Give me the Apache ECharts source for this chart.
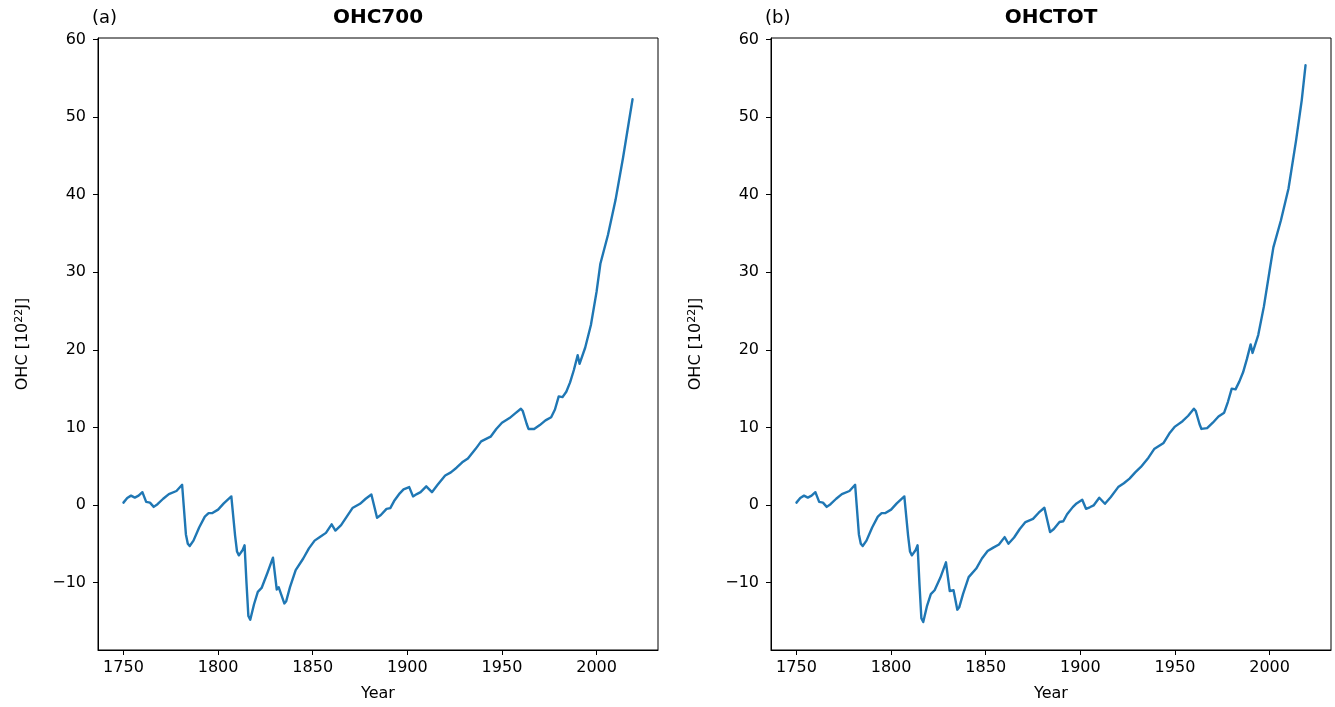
<!DOCTYPE html>
<html>
<head>
<meta charset="utf-8">
<script src="https://cdn.jsdelivr.net/npm/echarts@6/dist/echarts.min.js"></script>
<style>
html,body{margin:0;padding:0;background:#fff;}
#chart{width:1335px;height:707px;}
</style>
</head>
<body>
<div id="chart"></div>
<script>
// ---- data ----
const years700 = [1750,1752,1754,1756,1758,1760,1762,1764,1766,1768,1771,1774,1778,1781,1783,1784,1785,1787,1790,1793,1795,1797,1800,1803,1807,1808,1809,1810,1811,1813,1814,1815,1816,1817,1819,1821,1823,1826,1829,1831,1832,1833,1835,1836,1838,1841,1845,1848,1851,1854,1857,1860,1862,1865,1868,1871,1875,1878,1881,1882,1884,1886,1889,1891,1893,1896,1898,1901,1903,1905,1907,1910,1913,1916,1920,1923,1926,1929,1932,1936,1939,1944,1947,1950,1954,1957,1960,1961,1963,1964,1967,1970,1973,1976,1978,1980,1982,1984,1986,1988,1990,1991,1992,1994,1997,2000,2002,2006,2010,2014,2017,2019];
const ohc700 = [0.3,0.9,1.2,0.95,1.2,1.65,0.4,0.3,-0.25,0.1,0.8,1.4,1.8,2.6,-3.8,-5.0,-5.3,-4.6,-2.9,-1.5,-1.05,-1.05,-0.6,0.2,1.1,1.1,-4.0,-6.0,-6.5,-5.8,-5.2,-10.0,-14.3,-14.8,-12.8,-11.2,-10.7,-8.8,-6.8,-10.9,-10.6,-10.4,-12.7,-12.4,-10.6,-8.4,-6.9,-5.6,-4.6,-4.1,-3.6,-2.5,-3.3,-2.6,-1.5,-0.4,0.15,0.8,1.35,1.2,-1.65,-1.3,-0.5,-0.4,0.5,1.5,2.0,2.3,1.1,1.4,1.65,2.4,1.65,2.6,3.8,4.2,4.8,5.5,6.0,7.2,8.2,8.8,9.8,10.6,11.2,11.8,12.4,12.1,10.5,9.8,9.8,10.3,10.9,11.3,12.3,14.0,13.9,14.6,15.8,17.4,19.3,18.2,18.2,20.3,23.2,27.5,31.1,34.8,39.3,44.8,49.3,52.3];

const yearsTot = [1750,1752,1754,1756,1758,1760,1762,1764,1766,1768,1771,1774,1778,1781,1783,1784,1785,1787,1790,1793,1795,1797,1800,1803,1807,1808,1809,1810,1811,1813,1814,1815,1816,1817,1819,1821,1823,1826,1829,1831,1832,1833,1835,1836,1838,1841,1845,1848,1851,1854,1857,1860,1862,1865,1868,1871,1875,1878,1881,1882,1884,1886,1889,1891,1893,1896,1898,1901,1903,1905,1907,1910,1913,1916,1920,1923,1926,1929,1932,1936,1939,1944,1947,1950,1954,1957,1960,1961,1963,1964,1967,1970,1973,1976,1978,1980,1982,1984,1986,1988,1990,1991,1992,1994,1997,2000,2002,2006,2010,2014,2017,2019];
const ohcTot = [0.3,0.9,1.2,0.95,1.2,1.65,0.4,0.3,-0.25,0.1,0.8,1.4,1.8,2.6,-3.8,-5.0,-5.3,-4.6,-2.9,-1.5,-1.05,-1.05,-0.6,0.2,1.1,1.1,-4.0,-6.0,-6.5,-5.8,-5.2,-10.2,-14.6,-15.1,-13.0,-11.5,-11.0,-9.4,-7.4,-11.1,-11.0,-11.0,-13.5,-13.2,-11.5,-9.3,-8.2,-6.9,-5.95,-5.5,-5.1,-4.15,-5.0,-4.2,-3.1,-2.2,-1.8,-1.0,-0.36,-0.5,-3.5,-3.1,-2.2,-2.1,-1.2,-0.28,0.2,0.67,-0.5,-0.3,-0.06,0.93,0.15,1.0,2.3,2.8,3.4,4.2,4.9,6.1,7.2,8.0,9.2,10.1,10.8,11.5,12.4,12.1,10.4,9.8,9.9,10.6,11.4,11.9,13.3,15.0,14.9,15.9,17.1,18.8,20.7,19.6,19.7,21.9,25.6,30.2,33.2,36.7,40.8,47.0,52.2,56.7];

const xTicks = [1750,1800,1850,1900,1950,2000];
const yTicks = [-10,0,10,20,30,40,50,60];
const panelLetters = ['(a)','(b)'];
const panelTitles = ['OHC700','OHCTOT'];
const xName = 'Year';
const yName = 'OHC [10{sup|22}J]';

// ---- chart ----
const FONT = '"DejaVu Sans", sans-serif';
const BLUE = '#1f77b4';
const grids = [
  {left: 98, top: 38, width: 560, height: 612},
  {left: 771, top: 38, width: 560, height: 612}
];

function pairs(xs, ys){ return xs.map((x,i)=>[x, ys[i]]); }

const xAxes = grids.map((g,i)=>({
  type:'value', gridIndex:i, min:1736.55, max:2032.45,
  axisLine:{show:true, onZero:false, lineStyle:{color:'#000', width:1}},
  axisTick:{show:true, inside:false, length:5, customValues:xTicks, lineStyle:{color:'#000', width:1}},
  axisLabel:{customValues:xTicks, fontSize:16, color:'#000', fontFamily:FONT, margin:10,
    formatter:(v)=>String(v)},
  splitLine:{show:false},
  name:xName, nameLocation:'middle', nameGap:36,
  nameTextStyle:{fontSize:16, color:'#000', fontFamily:FONT}
}));
const yAxes = grids.map((g,i)=>({
  type:'value', gridIndex:i, min:-18.7, max:60.2,
  axisLine:{show:true, onZero:false, lineStyle:{color:'#000', width:1}},
  axisTick:{show:true, inside:false, length:5, customValues:yTicks, lineStyle:{color:'#000', width:1}},
  axisLabel:{customValues:yTicks, fontSize:16, color:'#000', fontFamily:FONT, margin:12,
    formatter:(v)=>String(v).replace('-', '\u2212')},
  splitLine:{show:false},
  name:yName, nameLocation:'middle', nameGap:66, nameRotate:90,
  nameTextStyle:{fontSize:16, color:'#000', fontFamily:FONT,
    rich:{sup:{fontSize:11, color:'#000', fontFamily:FONT, verticalAlign:'top', lineHeight:18}}}
}));

const graphics = [];
grids.forEach((g,i)=>{
  graphics.push({type:'text', x:g.left-6, y:9, style:{text:panelLetters[i], fontSize:18, fontFamily:FONT, fill:'#000', align:'left', verticalAlign:'top'}});
  graphics.push({type:'text', x:g.left+g.width/2, y:8, style:{text:panelTitles[i], fontSize:20, fontWeight:'bold', fontFamily:FONT, fill:'#000', align:'center', verticalAlign:'top'}});
});

const option = {
  animation:false,
  textStyle:{fontFamily:FONT},
  grid: grids.map(g=>Object.assign({show:true, borderColor:'#000', borderWidth:1, backgroundColor:'rgba(0,0,0,0)'}, g)),
  xAxis:xAxes,
  yAxis:yAxes,
  graphic:graphics,
  series:[
    {type:'line', xAxisIndex:0, yAxisIndex:0, data:pairs(years700, ohc700), showSymbol:false, smooth:false, lineStyle:{color:BLUE, width:2.4, join:'round', cap:'round'}, itemStyle:{color:BLUE}},
    {type:'line', xAxisIndex:1, yAxisIndex:1, data:pairs(yearsTot, ohcTot), showSymbol:false, smooth:false, lineStyle:{color:BLUE, width:2.4, join:'round', cap:'round'}, itemStyle:{color:BLUE}}
  ]
};
const chart = echarts.init(document.getElementById('chart'), null, {renderer:'canvas'});
chart.setOption(option);
</script>
</body>
</html>
